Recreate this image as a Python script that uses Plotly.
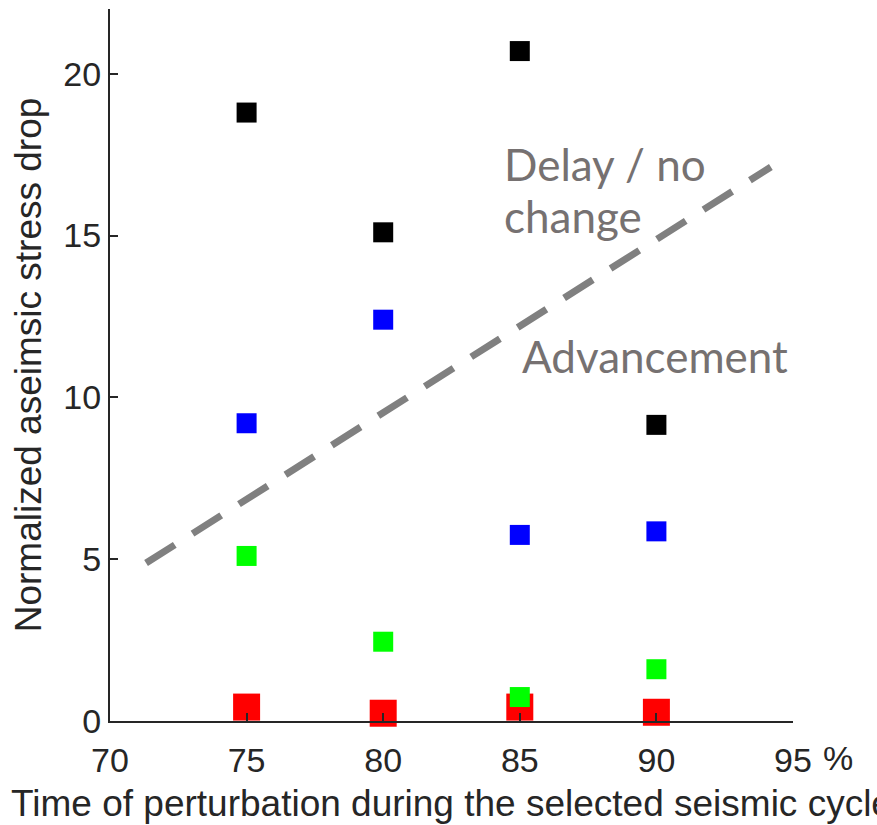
import plotly.graph_objects as go

# ---- data ----
times = [75, 80, 85, 90]
black_vals = [18.8, 15.1, 20.7, 9.15]
blue_vals = [9.2, 12.4, 5.75, 5.86]
green_vals = [5.1, 2.45, 0.74, 1.6]
red_vals = [0.43, 0.24, 0.43, 0.27]

boundary_x = [71.32, 94.19]
boundary_y = [4.88, 17.12]

x_ticks = [70, 75, 80, 85, 90, 95]
y_ticks = [0, 5, 10, 15, 20]

axis_color = "#262626"
text_gray = "#767171"
font_main = "Liberation Sans, Arial, Helvetica, sans-serif"
font_note = "Lato, sans-serif"

fig = go.Figure()

fig.add_trace(go.Scatter(
    x=boundary_x, y=boundary_y, mode="lines",
    line=dict(color="#808080", width=7, dash="34px,21px"),
    hoverinfo="skip", showlegend=False))

series = [
    (red_vals, "#ff0000", 27),
    (green_vals, "#00ff00", 20),
    (blue_vals, "#0000ff", 20),
    (black_vals, "#000000", 20),
]
for vals, col, sz in series:
    fig.add_trace(go.Scatter(
        x=times, y=vals, mode="markers",
        marker=dict(symbol="square", size=sz, color=col, line=dict(width=0)),
        cliponaxis=False, showlegend=False))

fig.add_annotation(x=84.39, y=17.22, text="Delay / no", showarrow=False,
                   xanchor="left", yanchor="middle", borderpad=0,
                   font=dict(family=font_note, size=44, color=text_gray))
fig.add_annotation(x=84.39, y=15.6, text="change", showarrow=False,
                   xanchor="left", yanchor="middle", borderpad=0,
                   font=dict(family=font_note, size=44, color=text_gray))
fig.add_annotation(x=85.04, y=11.28, text="Advancement", showarrow=False,
                   xanchor="left", yanchor="middle", borderpad=0,
                   font=dict(family=font_note, size=44, color=text_gray))
fig.add_annotation(xref="paper", yref="paper", x=1.066, y=-0.052, text="%",
                   showarrow=False, xanchor="center", yanchor="middle", borderpad=0,
                   font=dict(family=font_main, size=34, color=axis_color))

fig.update_layout(
    width=877, height=825,
    margin=dict(l=110, r=84, t=9, b=104),
    plot_bgcolor="white", paper_bgcolor="white",
    font=dict(family=font_main, color=axis_color),
    xaxis=dict(
        range=[70, 95], tickvals=x_ticks, ticktext=[str(v) for v in x_ticks],
        ticks="inside", ticklen=8, tickwidth=1.5, tickcolor=axis_color,
        showline=True, linecolor=axis_color, linewidth=2,
        showgrid=False, zeroline=False, ticklabelstandoff=8,
        tickfont=dict(size=34, color=axis_color, family=font_main),
        title=dict(text="Time of perturbation during the selected seismic cycle",
                   font=dict(size=37, color=axis_color, family=font_main),
                   standoff=12),
    ),
    yaxis=dict(
        range=[0, 22], tickvals=y_ticks, ticktext=[str(v) for v in y_ticks],
        ticks="inside", ticklen=8, tickwidth=1.5, tickcolor=axis_color,
        showline=True, linecolor=axis_color, linewidth=2,
        showgrid=False, zeroline=False,
        tickfont=dict(size=34, color=axis_color, family=font_main),
        title=dict(text="Normalized aseimsic stress drop",
                   font=dict(size=37, color=axis_color, family=font_main),
                   standoff=10),
    ),
)

fig.write_html("out.html")
